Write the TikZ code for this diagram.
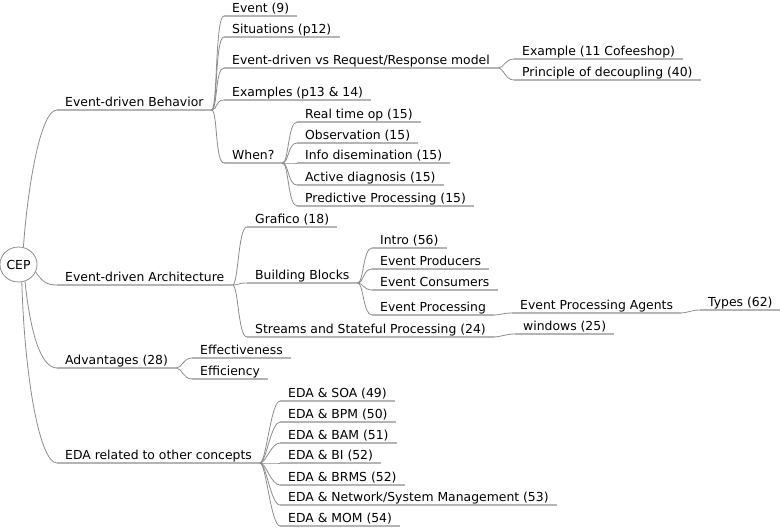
\documentclass[tikz,border=0pt]{standalone}
\usepackage{fontspec}
\setmainfont{DejaVu Sans}
\newcommand\mmfont{\fontsize{12.4}{14}\selectfont}
\definecolor{ulcol}{RGB}{180,180,180}
\definecolor{edcol}{RGB}{140,140,140}
\begin{document}
\begin{tikzpicture}[x=1pt,y=-1pt,
  tnode/.style={anchor=south west, xshift=-8pt, inner xsep=8pt, inner ysep=0pt,
    text height=9pt, text depth=3pt, font=\mmfont},
  uline/.style={draw=ulcol, line width=1.6pt},
  edge/.style={draw=edcol, line width=0.8pt}]
\useasboundingbox (0,0) rectangle (780,528);
% root
\node[circle, draw=edcol, line width=0.8pt, minimum size=35pt, inner sep=0pt, xscale=1.06] (root) at (18.5,264.5) {};
\node[font=\mmfont] (rootlabel) at (root.center) {CEP};
% level 1
\node[tnode] (beh)  at (65,110) {Event-driven Behavior};
\node[tnode] (arch) at (65,285) {Event-driven Architecture};
\node[tnode] (adv)  at (65,368) {Advantages (28)};
\node[tnode] (eda)  at (65,463) {EDA related to other concepts};
% behavior children
\node[tnode] (ev)   at (232,16)  {Event (9)};
\node[tnode] (sit)  at (232,37)  {Situations (p12)};
\node[tnode] (evr)  at (232,68)  {Event-driven vs Request/Response model};
\node[tnode] (exs)  at (232,100) {Examples (p13 \& 14)};
\node[tnode] (when) at (232,163) {When?};
\node[tnode] (exc)  at (522,59)  {Example (11 Cofeeshop)};
\node[tnode] (pod)  at (522,80)  {Principle of decoupling (40)};
\node[tnode] (rto)  at (305,122) {Real time op (15)};
\node[tnode] (obs)  at (305,143) {Observation (15)};
\node[tnode] (info) at (305,163) {Info disemination (15)};
\node[tnode] (act)  at (305,185) {Active diagnosis (15)};
\node[tnode] (pred) at (305,206) {Predictive Processing (15)};
% architecture children
\node[tnode] (graf) at (255,227) {Grafico (18)};
\node[tnode] (bb)   at (255,283) {Building Blocks};
\node[tnode] (str)  at (255,337) {Streams and Stateful Processing (24)};
\node[tnode] (intro) at (380,248) {Intro (56)};
\node[tnode] (prod) at (380,269) {Event Producers};
\node[tnode] (cons) at (380,290) {Event Consumers};
\node[tnode] (proc) at (380,315) {Event Processing};
\node[tnode] (epa)  at (520,313) {Event Processing Agents};
\node[tnode] (types) at (708,310) {Types (62)};
\node[tnode] (win)  at (523,334) {windows (25)};
% advantages children
\node[tnode] (effe) at (200,358) {Effectiveness};
\node[tnode] (effi) at (200,379) {Efficiency};
% EDA children
\node[tnode] (soa)  at (288,401) {EDA \& SOA (49)};
\node[tnode] (bpm)  at (288,422) {EDA \& BPM (50)};
\node[tnode] (bam)  at (288,443) {EDA \& BAM (51)};
\node[tnode] (bi)   at (288,463) {EDA \& BI (52)};
\node[tnode] (brms) at (288,485) {EDA \& BRMS (52)};
\node[tnode] (net)  at (288,505) {EDA \& Network/System Management (53)};
\node[tnode] (mom)  at (288,526) {EDA \& MOM (54)};
% underlines
\foreach \n in {beh,arch,adv,eda,ev,sit,evr,exs,when,exc,pod,rto,obs,info,act,pred,
  graf,bb,str,intro,prod,cons,proc,epa,types,win,effe,effi,soa,bpm,bam,bi,brms,net,mom}
  \draw[uline] (\n.south west) -- (\n.south east);
% root edges
\draw[edge] (root.75) .. controls +(4,-57) and +(-17,0) .. (beh.south west);
\draw[edge] (root.-25) .. controls +(7,10) and +(-10,0) .. (arch.south west);
\draw[edge] (root.-70) .. controls +(5,48) and +(-17,0) .. (adv.south west);
\draw[edge] (root.-80) .. controls +(3,98) and +(-17,0) .. (eda.south west);
% child edges
\foreach \p/\c in {beh/ev,beh/sit,beh/evr,beh/exs,beh/when,
  evr/exc,evr/pod,
  when/rto,when/obs,when/info,when/act,when/pred,
  arch/graf,arch/bb,arch/str,
  bb/intro,bb/prod,bb/cons,bb/proc,
  proc/epa,epa/types,str/win,
  adv/effe,adv/effi,
  eda/soa,eda/bpm,eda/bam,eda/bi,eda/brms,eda/net,eda/mom}
  \draw[edge] (\p.south east) .. controls +(6,0) and +(-9,0) .. (\c.south west);
\end{tikzpicture}
\end{document}
